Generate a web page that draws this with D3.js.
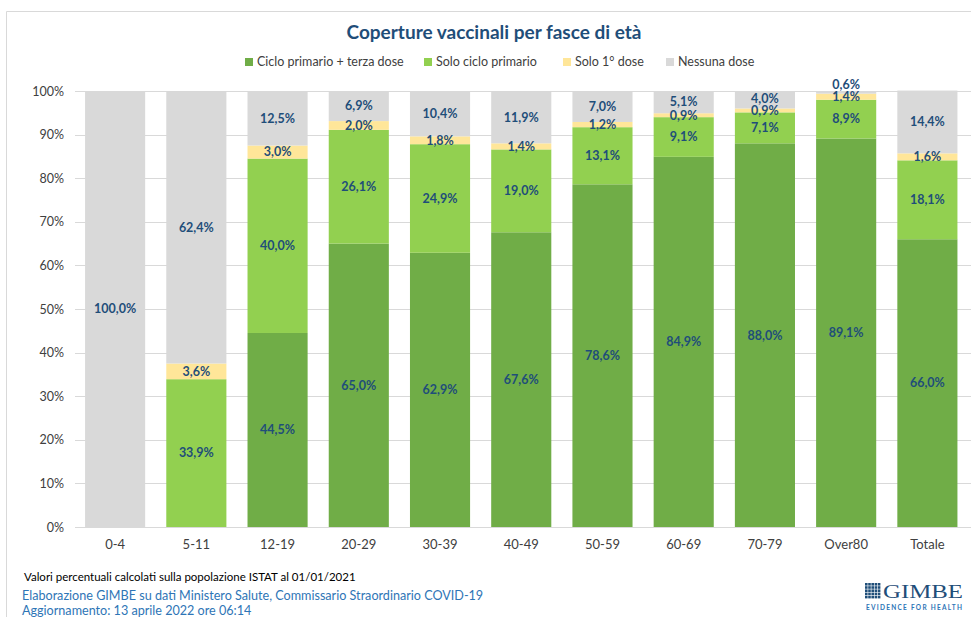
<!DOCTYPE html>
<html>
<head>
<meta charset="utf-8">
<script src="https://cdn.jsdelivr.net/npm/d3@7"></script>
<style>
  body { margin: 0; background: #fff; }
  svg { display: block; font-family: Lato, 'Open Sans', sans-serif; }
</style>
</head>
<body>
<div id="chart"></div>
<script>
const categories = ['0-4', '5-11', '12-19', '20-29', '30-39', '40-49', '50-59', '60-69', '70-79', 'Over80', 'Totale'];
const seriesNames = ['Ciclo primario + terza dose', 'Solo ciclo primario', 'Solo 1° dose', 'Nessuna dose'];
const terzaDose = [0, 0, 44.5, 65.0, 62.9, 67.6, 78.6, 84.9, 88.0, 89.1, 66.0];
const cicloPrimario = [0, 33.9, 40.0, 26.1, 24.9, 19.0, 13.1, 9.1, 7.1, 8.9, 18.1];
const primaDose = [0, 3.6, 3.0, 2.0, 1.8, 1.4, 1.2, 0.9, 0.9, 1.4, 1.6];
const nessunaDose = [100.0, 62.4, 12.5, 6.9, 10.4, 11.9, 7.0, 5.1, 4.0, 0.6, 14.4];
const yTicks = [0, 10, 20, 30, 40, 50, 60, 70, 80, 90, 100];
const colors = ['#70ad47', '#92d050', '#ffe699', '#d9d9d9'];

const W = 971, H = 617;
const svg = d3.select('#chart').append('svg').attr('width', W).attr('height', H);

// frame
svg.append('path')
  .attr('d', `M6.5,${H} V11.5 H${W}`)
  .attr('fill', 'none').attr('stroke', '#d9d9d9').attr('stroke-width', 1);

const table = categories.map((c, i) => ({
  cat: c,
  [seriesNames[0]]: terzaDose[i],
  [seriesNames[1]]: cicloPrimario[i],
  [seriesNames[2]]: primaDose[i],
  [seriesNames[3]]: nessunaDose[i],
}));
const stacked = d3.stack().keys(seriesNames)(table);

const x = d3.scaleBand().domain(categories).range([74.5, 968]).paddingInner(0.26).paddingOuter(0.13);
const y = d3.scaleLinear().domain([0, 100]).range([527, 91]);

// gridlines
svg.append('g').selectAll('line').data(yTicks).join('line')
  .attr('x1', 75).attr('x2', W)
  .attr('y1', d => Math.round(y(d)) + 0.5).attr('y2', d => Math.round(y(d)) + 0.5)
  .attr('stroke', '#d9d9d9').attr('stroke-width', 1);

// y axis labels
const yAxis = svg.append('g').attr('transform', 'translate(68,0)')
  .call(d3.axisLeft(y).tickValues(yTicks).tickFormat(d => d + '%').tickSize(0).tickPadding(4));
yAxis.select('.domain').remove();
yAxis.selectAll('text').attr('font-family', 'Lato, sans-serif').attr('font-size', 12.5).attr('fill', '#404040');

// bars
svg.append('g').selectAll('g').data(stacked).join('g')
  .attr('fill', (d, i) => colors[i])
  .selectAll('rect').data(d => d).join('rect')
  .attr('x', d => x(d.data.cat))
  .attr('width', x.bandwidth())
  .attr('y', d => y(d[1]))
  .attr('height', d => y(d[0]) - y(d[1]));

// value labels, pushed up when they collide
const fmt = v => v.toFixed(1).replace('.', ',') + '%';
const labels = [];
categories.forEach((c, i) => {
  let prevY = null;
  stacked.forEach(s => {
    const d = s[i];
    const v = d[1] - d[0];
    if (v <= 0) return;
    let ly = y((d[0] + d[1]) / 2);
    if (prevY !== null && prevY - ly < 12) ly = prevY - 12;
    prevY = ly;
    labels.push({ cat: c, y: ly, text: fmt(v) });
  });
});
svg.append('g').selectAll('text').data(labels).join('text')
  .attr('x', d => x(d.cat) + x.bandwidth() / 2)
  .attr('y', d => d.y)
  .attr('dy', '0.35em')
  .attr('text-anchor', 'middle')
  .attr('font-size', 12.5).attr('font-weight', 'bold').attr('fill', '#1f4e79')
  .text(d => d.text);

// x axis labels
const xAxis = svg.append('g').attr('transform', 'translate(0,527)')
  .call(d3.axisBottom(x).tickSize(0).tickPadding(13));
xAxis.select('.domain').remove();
xAxis.selectAll('text').attr('font-family', 'Lato, sans-serif').attr('font-size', 13).attr('fill', '#404040');

// title
svg.append('text').attr('x', 494).attr('y', 39).attr('text-anchor', 'middle')
  .attr('font-size', 19).attr('font-weight', 'bold').attr('fill', '#1f4e79')
  .text('Coperture vaccinali per fasce di età');

// legend
const legendX = [245, 424, 563, 666];
const leg = svg.append('g').selectAll('g').data(seriesNames).join('g')
  .attr('transform', (d, i) => `translate(${legendX[i]},62)`);
leg.append('rect').attr('x', 0).attr('y', -4).attr('width', 8).attr('height', 8)
  .attr('fill', (d, i) => colors[i]);
leg.append('text').attr('x', 12).attr('dy', '0.35em')
  .attr('font-size', 12.5).attr('fill', '#404040').text(d => d);

// footer
svg.append('text').attr('x', 24).attr('y', 581)
  .attr('font-size', 11.5).attr('fill', '#000')
  .text('Valori percentuali calcolati sulla popolazione ISTAT al 01/01/2021');
svg.append('text').attr('x', 22).attr('y', 600)
  .attr('font-size', 12.6).attr('fill', '#2e75b6')
  .text('Elaborazione GIMBE su dati Ministero Salute, Commissario Straordinario COVID-19');
svg.append('text').attr('x', 22).attr('y', 615)
  .attr('font-size', 12.6).attr('fill', '#2e75b6')
  .text('Aggiornamento: 13 aprile 2022 ore 06:14');

// GIMBE logo
const logo = svg.append('g').attr('transform', 'translate(865,583)');
const cells = d3.range(25).map(i => ({ r: Math.floor(i / 5), c: i % 5 }));
logo.append('g').selectAll('rect').data(cells).join('rect')
  .attr('x', d => d.c * 3.2).attr('y', d => d.r * 3.2)
  .attr('width', 2.6).attr('height', 2.6).attr('fill', '#1f4e79');
logo.append('text').attr('x', 18).attr('y', 15)
  .attr('font-family', "'Liberation Serif', 'DejaVu Serif', serif")
  .attr('font-size', 19).attr('fill', '#1f4e79')
  .attr('textLength', 80).attr('lengthAdjust', 'spacingAndGlyphs')
  .text('GIMBE');
logo.append('text').attr('x', 1).attr('y', 27)
  .attr('font-size', 6.5).attr('font-weight', 'bold').attr('fill', '#2e75b6')
  .attr('textLength', 96).attr('lengthAdjust', 'spacing')
  .text('EVIDENCE FOR HEALTH');
</script>
</body>
</html>
